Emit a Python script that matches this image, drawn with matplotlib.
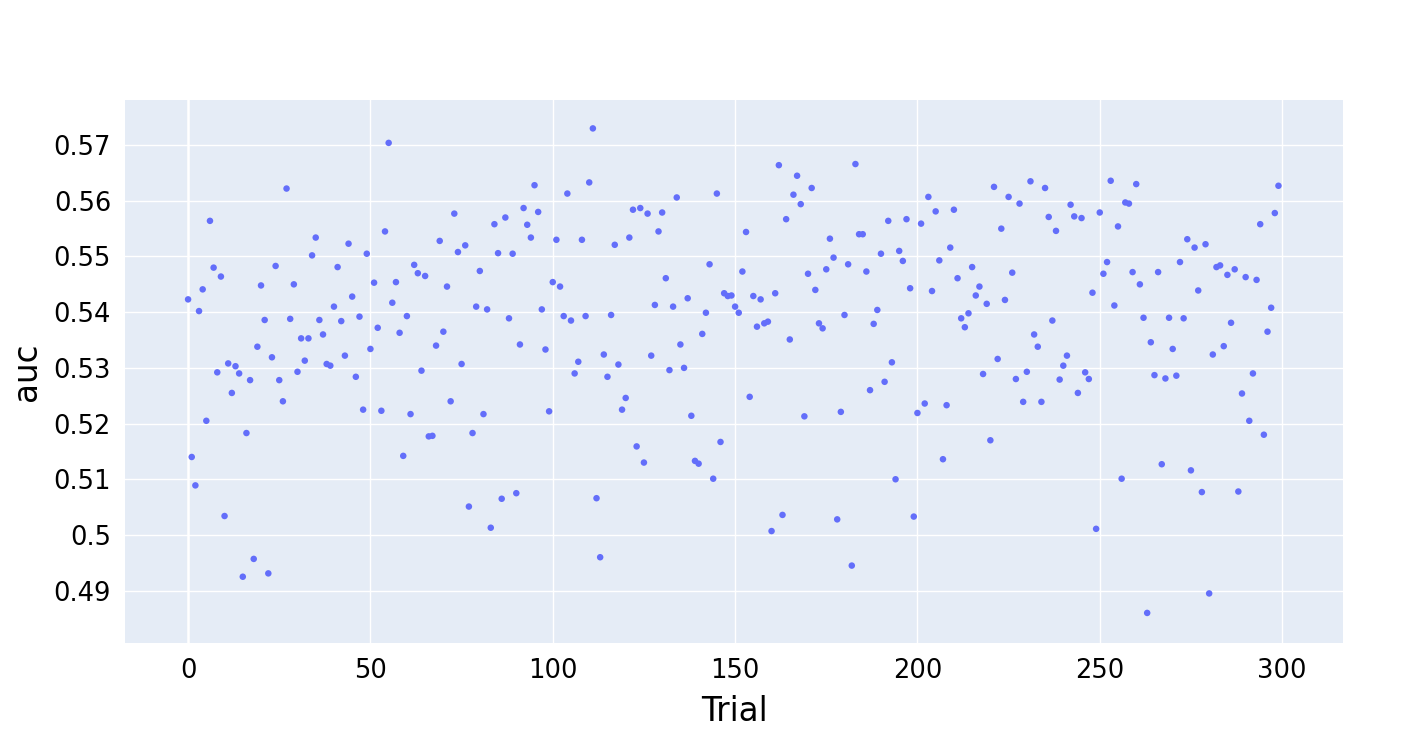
import matplotlib
matplotlib.use("Agg")
import matplotlib.pyplot as plt
import numpy as np

trials = list(range(300))
auc = [
    0.5423, 0.5140, 0.5089, 0.5402, 0.5441, 0.5205, 0.5564, 0.5480, 0.5292, 0.5464,
    0.5034, 0.5308, 0.5255, 0.5303, 0.5290, 0.4925, 0.5183, 0.5278, 0.4957, 0.5338,
    0.5448, 0.5386, 0.4931, 0.5319, 0.5483, 0.5278, 0.5240, 0.5622, 0.5388, 0.5450,
    0.5293, 0.5353, 0.5313, 0.5353, 0.5502, 0.5534, 0.5386, 0.5360, 0.5307, 0.5304,
    0.5410, 0.5481, 0.5384, 0.5322, 0.5523, 0.5428, 0.5284, 0.5392, 0.5225, 0.5505,
    0.5334, 0.5453, 0.5372, 0.5223, 0.5545, 0.5704, 0.5417, 0.5454, 0.5363, 0.5142,
    0.5393, 0.5217, 0.5485, 0.5470, 0.5295, 0.5465, 0.5177, 0.5178, 0.5340, 0.5528,
    0.5365, 0.5446, 0.5240, 0.5577, 0.5508, 0.5307, 0.5520, 0.5051, 0.5183, 0.5410,
    0.5474, 0.5217, 0.5405, 0.5013, 0.5558, 0.5506, 0.5065, 0.5570, 0.5389, 0.5505,
    0.5075, 0.5342, 0.5587, 0.5557, 0.5534, 0.5628, 0.5580, 0.5405, 0.5333, 0.5222,
    0.5454, 0.5530, 0.5446, 0.5393, 0.5613, 0.5385, 0.5290, 0.5311, 0.5530, 0.5393,
    0.5633, 0.5730, 0.5066, 0.4960, 0.5324, 0.5284, 0.5395, 0.5521, 0.5306, 0.5225,
    0.5246, 0.5534, 0.5584, 0.5159, 0.5587, 0.5130, 0.5577, 0.5322, 0.5413, 0.5545,
    0.5579, 0.5461, 0.5296, 0.5410, 0.5606, 0.5342, 0.5300, 0.5425, 0.5214, 0.5133,
    0.5128, 0.5361, 0.5399, 0.5486, 0.5101, 0.5613, 0.5167, 0.5434, 0.5429, 0.5430,
    0.5410, 0.5399, 0.5473, 0.5544, 0.5248, 0.5429, 0.5374, 0.5423, 0.5380, 0.5383,
    0.5007, 0.5434, 0.5664, 0.5036, 0.5567, 0.5351, 0.5611, 0.5645, 0.5594, 0.5213,
    0.5469, 0.5623, 0.5440, 0.5380, 0.5371, 0.5477, 0.5532, 0.5498, 0.5028, 0.5221,
    0.5395, 0.5486, 0.4945, 0.5666, 0.5540, 0.5540, 0.5473, 0.5260, 0.5379, 0.5404,
    0.5505, 0.5275, 0.5564, 0.5310, 0.5100, 0.5510, 0.5492, 0.5567, 0.5443, 0.5033,
    0.5219, 0.5559, 0.5236, 0.5607, 0.5438, 0.5581, 0.5493, 0.5136, 0.5233, 0.5516,
    0.5584, 0.5461, 0.5389, 0.5373, 0.5398, 0.5481, 0.5430, 0.5446, 0.5289, 0.5415,
    0.5170, 0.5625, 0.5316, 0.5550, 0.5422, 0.5607, 0.5471, 0.5280, 0.5595, 0.5239,
    0.5293, 0.5635, 0.5360, 0.5338, 0.5239, 0.5623, 0.5571, 0.5385, 0.5546, 0.5279,
    0.5304, 0.5322, 0.5593, 0.5572, 0.5255, 0.5569, 0.5292, 0.5280, 0.5435, 0.5011,
    0.5579, 0.5469, 0.5490, 0.5636, 0.5412, 0.5554, 0.5101, 0.5597, 0.5595, 0.5472,
    0.5630, 0.5450, 0.5390, 0.4860, 0.5346, 0.5287, 0.5472, 0.5127, 0.5281, 0.5390,
    0.5334, 0.5286, 0.5490, 0.5389, 0.5531, 0.5116, 0.5516, 0.5439, 0.5077, 0.5522,
    0.4895, 0.5324, 0.5481, 0.5484, 0.5339, 0.5467, 0.5381, 0.5477, 0.5078, 0.5254,
    0.5463, 0.5205, 0.5290, 0.5458, 0.5558, 0.5180, 0.5365, 0.5408, 0.5578, 0.5627,
]

x_ticks = [0, 50, 100, 150, 200, 250, 300]
y_ticks = [0.49, 0.50, 0.51, 0.52, 0.53, 0.54, 0.55, 0.56, 0.57]
y_tick_labels = ["0.49", "0.5", "0.51", "0.52", "0.53", "0.54", "0.55", "0.56", "0.57"]

W, H = 1424, 738
fig = plt.figure(figsize=(W / 100, H / 100), dpi=100)
ax = fig.add_axes([125 / W, 1 - 643 / H, (1343 - 125) / W, (643 - 100) / H])
ax.set_facecolor("#E5ECF6")
for s in ax.spines.values():
    s.set_visible(False)

ax.set_xlim(-17.3, 316.7)
ax.set_ylim(0.4806, 0.5781)
ax.set_xticks(x_ticks)
ax.set_xticklabels([str(t) for t in x_ticks])
ax.set_yticks(y_ticks)
ax.set_yticklabels(y_tick_labels)
ax.tick_params(axis="both", length=0, labelsize=18.5, colors="#000000")
ax.tick_params(axis="x", pad=11)
ax.tick_params(axis="y", pad=10)

ax.grid(True, color="white", linewidth=1.0, zorder=0)
ax.set_axisbelow(True)
ax.axvline(0, color="white", linewidth=1.8, zorder=0.5)

ax.scatter(trials, auc, s=22, color="#636EFA", edgecolors="none", zorder=3)

ax.set_xlabel("Trial", fontsize=23.5, labelpad=8)
ax.set_ylabel("auc", fontsize=23.5, labelpad=8)

fig.savefig("out.png", dpi=100, facecolor="white")
